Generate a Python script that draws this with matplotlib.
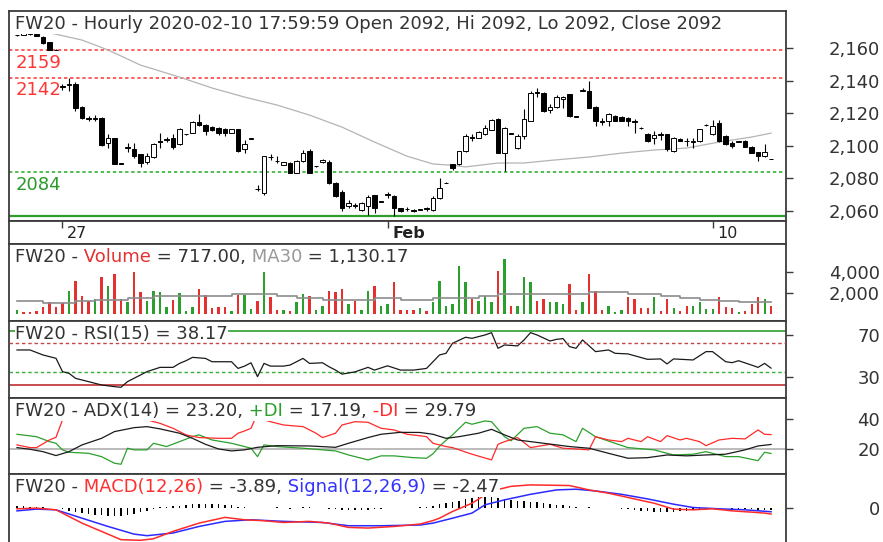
import numpy as np
import matplotlib.pyplot as plt
from matplotlib.ticker import FuncFormatter

# ---------------- data (hourly FW20, bar 0 = first bar on screen) ----------------
opens = [2168.0, 2168.2, 2169.2, 2168.8, 2167.2, 2163.7, 2159.2, 2136.6, 2137.2, 2138.0,
         2124.0, 2117.2, 2116.8, 2117.0, 2101.9, 2104.6, 2089.2, 2098.5, 2097.8, 2094.7,
         2090.1, 2093.0, 2103.2, 2103.8, 2105.0, 2100.9, 2107.0, 2108.1, 2114.9, 2112.8,
         2111.6, 2111.2, 2110.5, 2108.1, 2110.1, 2097.8, 2104.4, 2073.6, 2071.0, 2093.3,
         2090.8, 2088.2, 2089.5, 2083.3, 2090.5, 2096.7, 2087.3, 2089.9, 2090.0, 2077.0,
         2071.6, 2062.7, 2063.5, 2060.6, 2062.7, 2069.9, 2065.6, 2069.5, 2069.3, 2061.7,
         2061.2, 2060.5, 2060.4, 2061.4, 2060.6, 2067.9, 2077.0, 2088.5, 2088.5, 2096.7,
         2105.3, 2105.0, 2107.0, 2110.0, 2116.7, 2095.7, 2107.8, 2098.8, 2106.0, 2115.3,
         2133.4, 2132.8, 2121.8, 2124.0, 2128.6, 2131.8, 2118.2, 2134.0, 2133.8, 2124.0,
         2115.4, 2115.3, 2118.4, 2118.0, 2117.0, 2115.2, 2111.2, 2107.5, 2104.8, 2107.2,
         2107.0, 2096.7, 2104.4, 2103.2, 2102.4, 2103.0, 2112.6, 2107.0, 2114.3, 2106.0,
         2101.9, 2102.3, 2103.0, 2099.4, 2096.0, 2093.6, 2092.0]
highs = [2168.5, 2169.5, 2169.4, 2169.0, 2167.5, 2164.0, 2159.3, 2138.0, 2141.5, 2139.0,
         2124.5, 2118.5, 2119.0, 2117.5, 2107.5, 2105.0, 2089.4, 2101.9, 2101.9, 2095.0,
         2095.7, 2101.5, 2108.0, 2105.5, 2107.0, 2111.0, 2107.5, 2115.2, 2119.4, 2113.2,
         2112.0, 2111.5, 2110.8, 2110.5, 2110.5, 2103.4, 2104.8, 2076.0, 2094.0, 2095.0,
         2093.5, 2090.0, 2090.0, 2091.0, 2097.4, 2097.8, 2087.8, 2092.0, 2091.0, 2077.5,
         2073.0, 2066.8, 2064.6, 2065.5, 2070.0, 2070.0, 2066.2, 2071.6, 2069.8, 2062.0,
         2062.5, 2060.8, 2061.0, 2062.2, 2068.9, 2080.2, 2077.5, 2088.8, 2097.0, 2107.5,
         2107.0, 2109.0, 2113.0, 2116.5, 2117.0, 2111.5, 2108.0, 2107.0, 2122.5, 2133.5,
         2135.5, 2133.2, 2126.0, 2131.5, 2130.5, 2132.2, 2118.5, 2135.5, 2140.0, 2124.5,
         2117.0, 2120.4, 2118.8, 2118.3, 2118.0, 2116.5, 2111.5, 2108.0, 2109.2, 2108.6,
         2107.5, 2105.5, 2104.7, 2105.0, 2104.6, 2110.5, 2113.2, 2116.0, 2116.0, 2106.5,
         2102.9, 2102.9, 2103.4, 2099.8, 2096.4, 2101.0, 2092.0]
lows = [2167.5, 2168.0, 2168.4, 2167.3, 2162.8, 2159.0, 2159.0, 2134.5, 2134.0, 2121.5,
        2116.3, 2115.3, 2115.5, 2100.0, 2098.8, 2088.5, 2088.8, 2096.3, 2092.6, 2087.0,
        2088.5, 2092.5, 2098.8, 2102.5, 2098.2, 2100.5, 2106.8, 2107.8, 2112.5, 2106.6,
        2109.2, 2106.8, 2106.0, 2107.8, 2096.3, 2095.7, 2104.2, 2072.0, 2070.0, 2091.0,
        2089.5, 2088.0, 2083.0, 2083.0, 2090.2, 2083.0, 2087.0, 2089.5, 2076.5, 2068.5,
        2059.6, 2061.5, 2061.4, 2060.0, 2057.6, 2058.6, 2065.4, 2067.9, 2056.5, 2059.5,
        2059.8, 2059.4, 2060.2, 2059.6, 2059.6, 2067.5, 2076.8, 2085.4, 2088.2, 2096.4,
        2103.0, 2104.7, 2106.7, 2109.7, 2095.3, 2084.4, 2107.2, 2098.0, 2104.3, 2115.0,
        2130.0, 2121.0, 2120.5, 2123.5, 2123.5, 2118.0, 2117.5, 2133.5, 2123.0, 2112.0,
        2113.0, 2112.2, 2115.0, 2115.0, 2112.5, 2108.0, 2110.5, 2102.5, 2101.4, 2103.6,
        2096.7, 2096.3, 2102.7, 2099.8, 2098.8, 2102.5, 2112.4, 2106.5, 2102.5, 2100.5,
        2098.8, 2102.1, 2099.0, 2095.3, 2090.5, 2093.2, 2092.0]
closes = [2168.0, 2169.3, 2168.6, 2167.6, 2163.1, 2159.2, 2159.0, 2136.0, 2137.8, 2123.5,
          2117.4, 2116.8, 2117.2, 2100.4, 2104.6, 2088.9, 2089.0, 2099.0, 2093.6, 2089.5,
          2093.6, 2100.9, 2102.6, 2104.2, 2099.2, 2110.5, 2107.2, 2114.9, 2112.8, 2109.1,
          2109.5, 2108.1, 2108.1, 2110.1, 2096.7, 2101.3, 2104.6, 2073.2, 2093.6, 2092.8,
          2090.4, 2089.8, 2083.3, 2090.5, 2095.7, 2083.3, 2087.7, 2091.4, 2077.0, 2069.0,
          2061.7, 2064.8, 2063.0, 2064.8, 2068.5, 2061.7, 2066.0, 2070.2, 2061.7, 2059.8,
          2060.8, 2059.6, 2060.8, 2061.0, 2067.9, 2074.0, 2077.3, 2086.4, 2096.7, 2106.0,
          2104.7, 2108.5, 2111.0, 2116.0, 2095.7, 2111.2, 2107.4, 2106.0, 2116.3, 2132.8,
          2132.4, 2121.5, 2123.8, 2130.0, 2130.2, 2118.4, 2117.8, 2134.6, 2123.5, 2115.3,
          2114.8, 2119.4, 2115.3, 2115.3, 2115.0, 2114.8, 2110.8, 2103.0, 2106.4, 2106.8,
          2097.8, 2105.0, 2103.0, 2102.8, 2102.8, 2110.1, 2113.0, 2112.0, 2103.0, 2100.9,
          2099.8, 2102.7, 2099.4, 2095.7, 2093.6, 2096.0, 2092.0]

# moving average drawn on the price panel, read at a few bars
ma_x = [3, 5, 10, 14, 19, 25, 30, 35, 40, 45, 50, 55, 60, 64, 67, 69, 74, 78, 82, 88, 93, 98, 103, 108, 113, 116]
ma_y = [2169.8, 2169.6, 2165.1, 2159.0, 2149.7, 2142.3, 2135.6, 2130.0, 2125.1, 2118.9, 2111.5, 2102.3,
        2093.6, 2088.8, 2088.0, 2087.0, 2089.4, 2089.4, 2091.0, 2093.1, 2095.5, 2097.4, 2098.6, 2102.3,
        2105.4, 2107.8]

levels_red = [2159, 2142]
level_green = 2084
support_line = 2057

date_ticks = [7, 57, 107]
date_labels = ['27', 'Feb', '10']

volumes = [400, 150, 150, 250, 650, 1100, 700, 1000, 2200, 3170,
           1740, 1270, 1430, 3490, 2700, 3800, 1430, 1110, 3960, 2060,
           1270, 2220, 2060, 700, 1330, 1970, 320, 700, 2380, 1810,
           570, 630, 700, 320, 1810, 1810, 480, 1200, 3960, 1590,
           380, 380, 320, 1110, 1900, 1740, 380, 790, 2220, 2060,
           2380, 950, 1270, 380, 2220, 2700, 790, 950, 3010, 380,
           380, 380, 570, 320, 1110, 3170, 790, 950, 4600, 3010,
           1430, 1270, 1740, 1110, 4120, 5230, 790, 790, 3500, 3010,
           1270, 1430, 1110, 1110, 950, 2850, 380, 1110, 3800, 2220,
           380, 790, 160, 380, 1590, 1430, 570, 570, 1590, 320,
           1430, 570, 320, 790, 790, 1110, 480, 480, 1590, 630,
           570, 160, 320, 950, 1590, 1430, 717]
# g = up bar, r = down bar
vol_dir = ('grrrrrrrgr' 'rrgrgrrgrr' 'ggggrgggrr' 'rrrgrggrgr'
           'rgrggrggrr' 'rgrggrggrr' 'rrgrgggggg' 'rgggrgrggg'
           'rrgggrrgrr' 'rgggrrrrgr' 'rgrrggggrr' 'rgrrrgr')

vma_x = [0, 4, 9, 12, 17, 21, 33, 40, 43, 47, 50, 55, 59, 64, 71, 74, 88, 94, 99, 102, 105, 108, 111, 116]
vma_y = [1200, 1010, 1200, 1330, 1490, 1680, 1900, 1680, 1490, 1360, 1330, 1490, 1330, 1490, 1680,
         1900, 2060, 1900, 1680, 1490, 1330, 1200, 1130, 1130]

rsi_x = [0, 2, 4, 6, 7, 8, 9, 11, 13, 15, 16, 17, 18, 19, 20, 22, 24, 25, 26, 27, 29, 30, 33, 34,
         35, 36, 37, 38, 39, 41, 42, 44, 45, 47, 48, 49, 50, 52, 54, 55, 57, 59, 61, 63, 65, 66,
         67, 69, 70, 72, 73, 74, 75, 77, 78, 79, 80, 82, 83, 84, 85, 86, 87, 89, 91, 92, 94, 97,
         99, 100, 101, 104, 106, 107, 109, 110, 111, 113, 114, 115, 116]
rsi_y = [55.6, 55.6, 50.8, 47.6, 34.8, 33.2, 28.4, 25.2, 22.0, 20.4, 19.8, 25.2, 28.4, 31.6, 34.8,
         38.9, 38.9, 42.7, 45.3, 48.5, 47.5, 44.3, 44.3, 37.9, 40.1, 43.3, 30.0, 42.7, 40.1, 40.1,
         41.1, 47.5, 42.7, 43.3, 39.5, 36.3, 32.4, 34.6, 38.9, 36.3, 40.4, 36.3, 36.3, 37.9, 50.8,
         52.4, 62.0, 67.8, 66.8, 70.0, 72.2, 57.2, 60.4, 59.5, 65.2, 72.2, 70.0, 64.2, 65.8, 66.5,
         58.8, 57.2, 65.2, 54.0, 55.6, 52.4, 51.8, 46.6, 47.0, 42.2, 47.0, 46.0, 54.0, 54.0, 44.4,
         43.4, 45.3, 41.1, 38.9, 42.7, 38.17]
rsi_levels = [74, 62, 34, 21.5]

adx_x = [0, 2, 4, 6, 8, 10, 13, 15, 18, 20, 22, 25, 27, 29, 31, 33, 35, 37, 40, 45, 49, 51, 54, 56,
         59, 62, 64, 66, 68, 71, 73, 75, 77, 81, 85, 88, 91, 94, 97, 100, 103, 106, 109, 112, 114, 116]
adx_y = [21.1, 20.0, 18.4, 15.8, 18.4, 22.9, 27.3, 31.8, 34.4, 35.1, 33.6, 30.7, 27.3, 23.3, 20.2,
         18.9, 19.6, 21.3, 22.4, 22.2, 21.3, 24.0, 27.8, 30.0, 31.3, 31.2, 30.0, 27.3, 28.4, 30.7,
         33.3, 29.6, 26.2, 24.0, 21.8, 20.7, 17.3, 14.0, 14.4, 16.2, 15.6, 16.2, 16.7, 19.6, 22.2, 23.2]
pdi_x = [0, 3, 5, 6, 7, 8, 11, 13, 15, 16, 17, 18, 20, 21, 23, 25, 27, 28, 30, 33, 36, 37, 38, 40,
         44, 47, 49, 51, 54, 56, 58, 61, 63, 64, 65, 66, 67, 69, 70, 72, 73, 75, 76, 78, 80, 82,
         84, 86, 87, 89, 92, 94, 98, 101, 104, 106, 109, 111, 114, 115, 116]
pdi_y = [30.0, 28.4, 25.1, 24.0, 19.6, 18.0, 17.3, 15.1, 10.7, 10.0, 20.7, 19.6, 19.6, 24.0, 21.8,
         25.1, 28.4, 29.6, 26.2, 24.0, 20.7, 15.1, 22.9, 21.8, 20.7, 19.6, 18.9, 16.2, 12.9, 15.6,
         15.6, 14.4, 14.0, 17.0, 22.0, 26.0, 29.6, 38.0, 36.7, 38.9, 38.4, 28.4, 25.6, 34.0, 35.1,
         30.7, 29.6, 25.1, 34.0, 28.4, 24.0, 21.1, 19.6, 16.2, 16.7, 18.4, 15.1, 15.1, 12.4, 18.0, 17.19]
mdi_x = [0, 2, 3, 5, 6, 7, 8, 11, 14, 17, 19, 20, 22, 24, 26, 28, 31, 33, 34, 35, 36, 37, 38, 39,
         41, 44, 46, 47, 49, 50, 52, 54, 56, 58, 60, 62, 63, 64, 66, 67, 70, 73, 74, 75, 77, 79,
         82, 84, 86, 88, 89, 91, 93, 94, 96, 97, 99, 100, 102, 103, 105, 106, 108, 110, 112, 114, 115, 116]
mdi_y = [22.9, 21.1, 21.1, 26.2, 28.0, 39.6, 46.0, 50.0, 50.0, 47.0, 43.0, 39.6, 37.3, 34.0, 29.6,
         27.8, 27.3, 27.3, 30.7, 32.2, 34.0, 44.0, 39.6, 38.4, 36.2, 35.1, 30.7, 27.8, 30.7, 36.2,
         38.4, 38.0, 34.0, 32.9, 30.0, 29.0, 28.4, 24.0, 21.8, 21.1, 16.7, 12.9, 23.3, 25.1, 27.8,
         21.1, 23.3, 20.7, 20.2, 19.6, 28.4, 26.2, 25.1, 27.3, 25.1, 28.4, 25.1, 29.1, 26.2, 27.3,
         25.1, 22.4, 26.2, 27.3, 26.9, 32.9, 30.0, 29.79]
adx_ref = 20

macd_x = [0, 3, 6, 10, 13, 16, 19, 21, 24, 28, 32, 35, 38, 41, 45, 48, 51, 54, 58, 62, 64, 65, 67,
          70, 72, 74, 76, 79, 85, 88, 91, 94, 98, 101, 104, 107, 110, 113, 115, 116]
macd_y = [-0.6, -0.2, -1.25, -9.6, -14.8, -20.0, -20.4, -19.4, -14.8, -9.6, -6.0, -7.5, -8.1, -9.2,
          -8.5, -9.6, -12.3, -12.7, -11.7, -10.2, -8.0, -6.5, -2.3, 2.9, 8.1, 11.5, 13.5, 14.4, 14.0,
          11.25, 9.2, 6.5, 2.9, -0.8, -1.25, -0.6, -1.9, -2.7, -3.3, -3.89]
sig_x = [0, 3, 6, 10, 14, 18, 20, 24, 28, 32, 36, 41, 47, 51, 56, 62, 64, 67, 70, 72, 75, 79, 83,
         86, 89, 93, 97, 101, 104, 108, 112, 116]
sig_y = [-1.9, -0.8, -1.25, -6.5, -11.7, -16.5, -17.5, -15.8, -11.7, -8.5, -7.5, -8.5, -9.2, -11.25,
         -11.25, -10.8, -9.6, -6.5, -3.3, 1.9, 5.0, 8.5, 11.25, 11.7, 10.6, 8.5, 5.6, 2.3, 0.2, -0.6,
         -1.25, -2.47]
macd_hist = [1.3, 1.0, 0.6, 0.8, 0.5, 0.2, -0.4, -1.0, -1.8, -2.5,
             -3.1, -3.6, -4.2, -4.8, -5.2, -5.4, -5.0, -4.4, -3.6, -2.8,
             -2.0, -1.0, 0.3, 0.6, 1.0, 1.4, 1.8, 2.1, 2.3, 2.4,
             2.4, 2.2, 2.0, 1.5, 0.8, 0.3, 0.2, -0.3, -0.2, 0.1,
             0.3, -0.2, -0.6, 0.2, 0.5, 0.4, -0.1, -0.3, -0.5, -0.9,
             -1.2, -1.3, -1.4, -1.3, -1.2, -0.9, -0.6, -0.4, -0.3, -0.2,
             -0.1, 0.1, 0.4, 0.8, 1.4, 2.2, 3.0, 3.8, 4.6, 5.4,
             6.2, 6.8, 7.2, 7.0, 6.0, 5.4, 5.0, 4.6, 4.2, 3.8,
             3.4, 3.0, 2.5, 2.0, 1.5, 1.0, 0.5, -0.2, 0.3, -0.2,
             -0.3, 0.2, -0.4, -0.6, -0.9, -1.3, -1.7, -2.1, -2.4, -2.6,
             -2.7, -2.6, -2.3, -1.9, -1.5, -1.0, -0.6, -0.3, 0.2, -0.4,
             -0.6, -0.7, -0.9, -1.0, -1.2, -1.3, -1.42]

# ---------------- style ----------------
TXT = '#333333'
FRAME = '#3c3c3c'
RED = '#e53030'
GREEN = '#2ca02c'
FS = 13

fig = plt.figure(figsize=(8.83, 5.42), dpi=100)
W, H = 883, 542
LEFT, RIGHT = 9, 786
XLIM = (-1.23, 118.3)
x = np.arange(len(closes))


def panel(top, bottom, ylim, ticks=None, fmt='{:,.0f}'):
    ax = fig.add_axes([LEFT / W, 1 - bottom / H, (RIGHT - LEFT) / W, (bottom - top) / H])
    ax.set_xlim(*XLIM)
    ax.set_ylim(*ylim)
    ax.set_xticks([])
    for s in ax.spines.values():
        s.set_color(FRAME)
        s.set_linewidth(1.3)
    if ticks is None:
        ax.set_yticks([])
    else:
        ax.set_yticks(ticks)
        ax.yaxis.set_major_formatter(FuncFormatter(lambda v, p: fmt.format(v)))
        ax.tick_params(axis='y', left=False, right=True, labelleft=False, labelright=True,
                       direction='out', length=5, width=1, color=FRAME, labelcolor=TXT,
                       labelsize=FS, pad=62.7)
        for t in ax.yaxis.get_major_ticks():
            t.label2.set_horizontalalignment('right')
    return ax


def title(ax, parts):
    prev = None
    for text, color in parts:
        kw = dict(color=color, fontsize=FS, zorder=10,
                  bbox=dict(boxstyle='square,pad=0.02', fc='white', ec='none'))
        if prev is None:
            prev = ax.annotate(text, xy=(0, 1), xycoords='axes fraction', xytext=(4.3, -13.2),
                               textcoords='offset points', ha='left', va='baseline', **kw)
        else:
            prev = ax.annotate(text, xy=(1, 0), xycoords=prev, ha='left', va='bottom', **kw)


# ---------------- price panel ----------------
ax = panel(11, 221, (2053.7, 2183.0), ticks=range(2060, 2161, 20))
o, h, l, c = map(np.array, (opens, highs, lows, closes))
up = c >= o
ax.vlines(x, l, h, color='black', lw=0.8, zorder=3)
ax.bar(x, np.abs(c - o), bottom=np.minimum(o, c), width=0.64,
       color=np.where(up, 'white', 'black'), edgecolor='black', linewidth=0.7, zorder=4)
ax.plot(ma_x, ma_y, color='#b4b4b4', lw=0.9, zorder=2)
for lv in levels_red:
    ax.axhline(lv, color='#ff3535', lw=1.1, dashes=(2.2, 1.8), zorder=1)
    ax.annotate(str(lv), xy=(0, lv), xycoords=('axes fraction', 'data'), xytext=(4.5, -2.6),
                textcoords='offset points', va='top', ha='left', color='#ff3535', fontsize=FS, zorder=5)
ax.axhline(level_green, color='#22aa22', lw=1.1, dashes=(2.2, 1.8), zorder=1)
ax.annotate(str(level_green), xy=(0, level_green), xycoords=('axes fraction', 'data'), xytext=(4.5, -3),
            textcoords='offset points', va='top', ha='left', color='#2a9a2a', fontsize=FS, zorder=5)
ax.axhline(support_line, color='#2e9e2e', lw=1.6, zorder=1)
title(ax, [('FW20 - Hourly 2020-02-10 17:59:59 Open 2092, Hi 2092, Lo 2092, Close 2092', TXT)])

# ---------------- date row ----------------
dax = panel(221, 244, (0, 1))
dax.set_xticks(date_ticks)
dax.tick_params(axis='x', top=True, bottom=False, labelbottom=False, direction='in',
                length=5, width=1, color=FRAME)
for pos, lab in zip(date_ticks, date_labels):
    dax.annotate(lab, xy=(pos, 0.5), xycoords=('data', 'axes fraction'), xytext=(3.3, -0.8),
                 textcoords='offset points', va='center', ha='left', color='#222222', fontsize=11.5,
                 fontweight='bold' if not lab.isdigit() else 'normal')

# ---------------- volume ----------------
vax = panel(244, 321, (-667, 6667), ticks=[2000, 4000])
vcol = [GREEN if d == 'g' else RED for d in vol_dir]
vax.bar(x, volumes, width=0.32, color=vcol, zorder=2)
vax.step(vma_x, vma_y, where='post', color='#8c8c8c', lw=1.2, zorder=3)
title(vax, [('FW20 -', TXT), (' Volume', RED), (' = 717.00,', TXT), (' MA30', '#999999'),
            (' = 1,130.17', TXT)])

# ---------------- RSI ----------------
rax = panel(321, 398, (9.5, 83.4), ticks=[30, 70])
rax.axhline(rsi_levels[0], color='#2ca02c', lw=1.2, zorder=2)
rax.axhline(rsi_levels[1], color='#c24848', lw=1.0, dashes=(2.5, 2), zorder=11)
rax.axhline(rsi_levels[2], color='#36b036', lw=1.0, dashes=(2.5, 2), zorder=2)
rax.axhline(rsi_levels[3], color='#c03030', lw=1.2, zorder=2)
rax.plot(rsi_x, rsi_y, color='#1a1a1a', lw=0.9, zorder=3)
title(rax, [('FW20 - RSI(15) = 38.17', TXT)])

# ---------------- ADX ----------------
aax = panel(398, 474, (3.5, 54.2), ticks=[20, 40])
aax.axhline(adx_ref, color='#a8a8a8', lw=1.1, zorder=1)
aax.plot(pdi_x, pdi_y, color='#2ca02c', lw=0.9, zorder=2)
aax.plot(mdi_x, mdi_y, color='#ff2a2a', lw=0.9, zorder=2)
aax.plot(adx_x, adx_y, color='#1a1a1a', lw=0.9, zorder=3)
title(aax, [('FW20 - ADX(14) = 23.20,', TXT), (' +DI', GREEN), (' = 17.19,', TXT),
            (' -DI', '#ff2a2a'), (' = 29.79', TXT)])

# ---------------- MACD ----------------
max_ = panel(474, 547, (-24.6, 21.25), ticks=[0])
max_.bar(x, macd_hist, width=0.2, color='black', zorder=2)
max_.plot(sig_x, sig_y, color='#2a2aff', lw=1.1, zorder=3)
max_.plot(macd_x, macd_y, color='#ff2a2a', lw=1.1, zorder=4)
title(max_, [('FW20 -', TXT), (' MACD(12,26)', '#ff3030'), (' = -3.89,', TXT),
             (' Signal(12,26,9)', '#3333ff'), (' = -2.47', TXT)])

fig.savefig('out.png', dpi=100)
